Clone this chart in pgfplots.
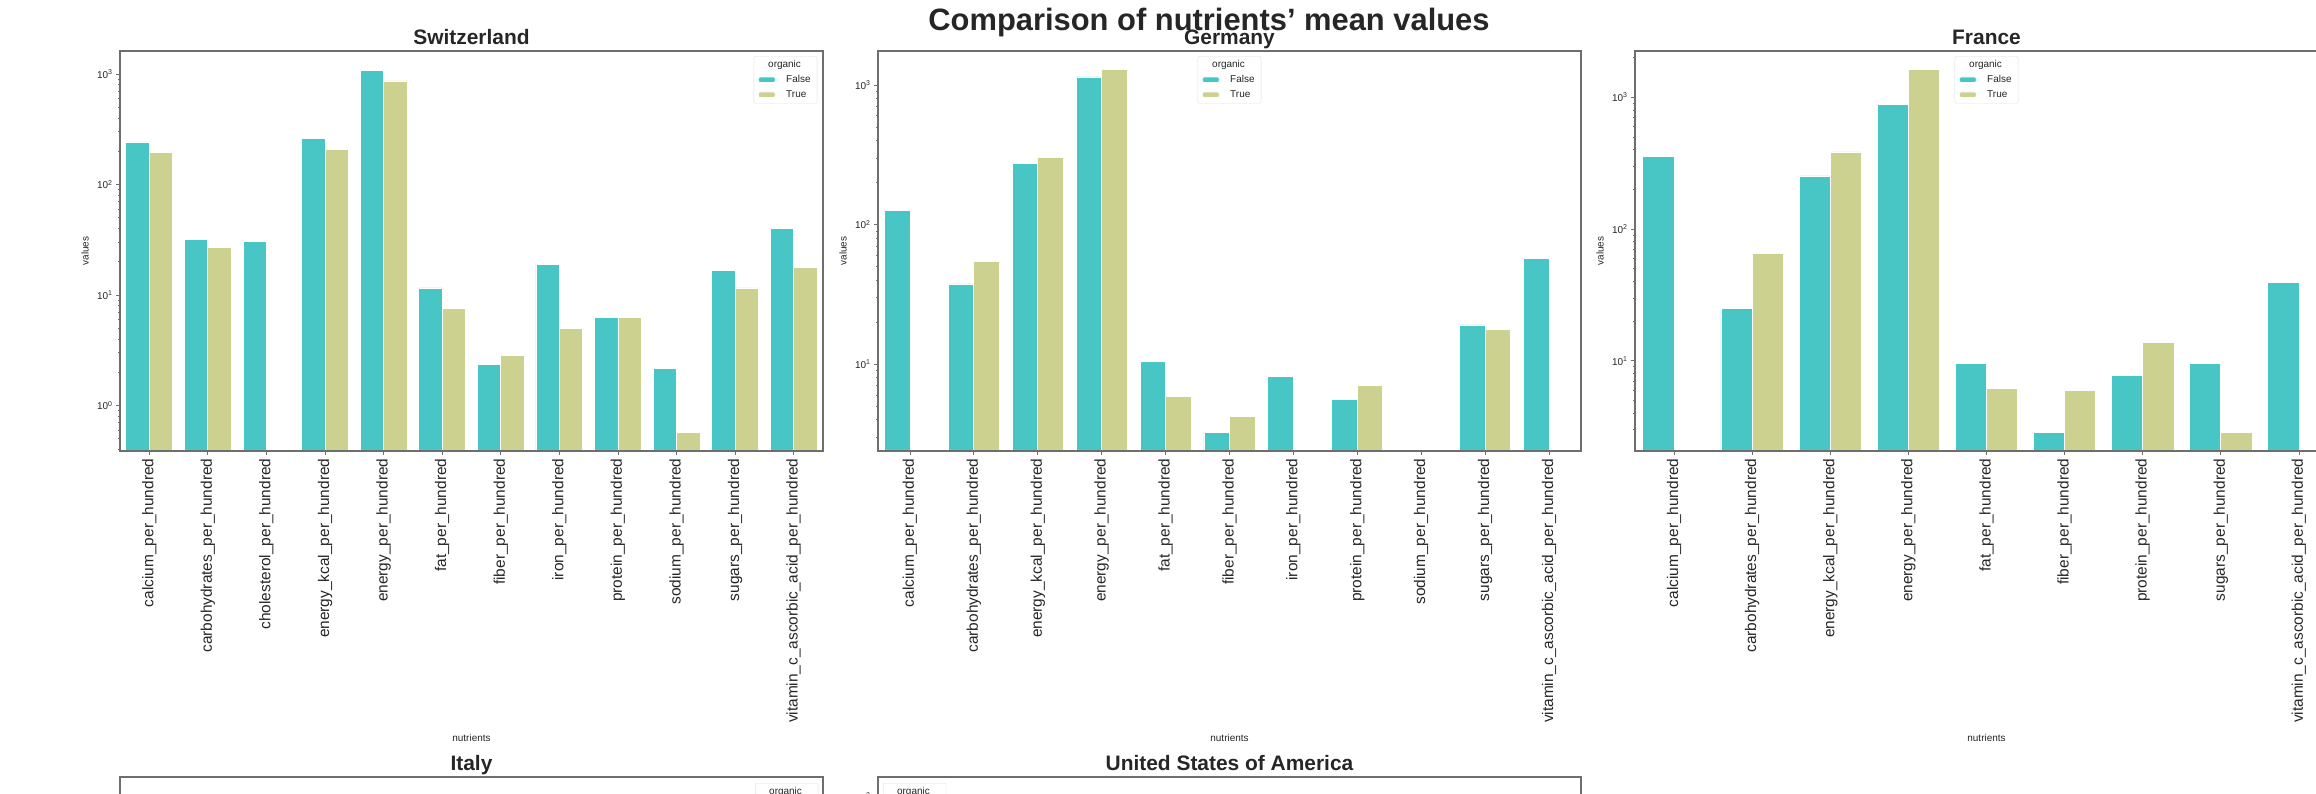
\documentclass[border=0pt]{standalone}
\usepackage{fontspec}
\setmainfont{Liberation Sans}
\usepackage{pgfplots}
\pgfplotsset{compat=1.18}

\definecolor{cF}{RGB}{72,198,198}
\definecolor{cT}{RGB}{204,209,143}
\definecolor{txt}{RGB}{38,38,38}
\definecolor{frame}{RGB}{110,110,110}

% shared look of the five panels
\pgfplotsset{
  every axis/.append style={
    scale only axis, width=703bp, height=400bp,
    axis on top,
    axis line style={draw=frame, line width=1.3bp},
    tick style={draw=frame, line width=0.9bp},
    tick align=outside, major tick length=4bp, minor tick length=2bp,
    tick pos=left,
    yticklabel style={font=\fontsize{10}{12}\selectfont, text=txt},
    xticklabel style={font=\fontsize{15.5}{18}\selectfont, text=txt, rotate=90, anchor=east},
    title style={font=\fontsize{21}{25}\selectfont\bfseries, text=txt, anchor=base, yshift=1bp},
    ylabel style={font=\fontsize{10}{12}\selectfont, text=txt},
    xlabel style={font=\fontsize{10}{12}\selectfont, text=txt},
    legend cell align=left,
    legend style={draw=gray!25, rounded corners=2bp, fill=white,
      font=\fontsize{10}{12}\selectfont, text=txt,
      inner xsep=4bp, inner ysep=1bp,
      nodes={inner sep=2.5bp, text height=7.5bp, text depth=2.5bp},
      /tikz/every odd column/.append style={column sep=8bp}},
  },
}

\begin{document}
\begin{tikzpicture}
\useasboundingbox (0,0) rectangle (2316bp,-794bp);
\clip (0,0) rectangle (2316bp,-794bp);

% ---- Switzerland ----
\begin{axis}[at={(120bp,-451bp)}, anchor=south west,
  ymode=log, log origin=infty, ybar, bar width=0.4,
  title={Switzerland},
  ylabel={values}, xlabel={nutrients},
  ylabel style={at={(axis description cs:-0.0498,0.5)}, anchor=center},
  xlabel style={at={(axis description cs:0.5,-0.7175)}, anchor=center},
  xmin=-0.5, xmax=11.5, ymin=0.389, ymax=1615,
  xtick={0,...,11},
  xticklabels={calcium\_per\_hundred, carbohydrates\_per\_hundred, cholesterol\_per\_hundred,
    energy\_kcal\_per\_hundred, energy\_per\_hundred, fat\_per\_hundred, fiber\_per\_hundred,
    iron\_per\_hundred, protein\_per\_hundred, sodium\_per\_hundred, sugars\_per\_hundred,
    vitamin\_c\_ascorbic\_acid\_per\_hundred},
  ytick={1,10,100,1000},
  yticklabels={10\textsuperscript{0},10\textsuperscript{1},10\textsuperscript{2},10\textsuperscript{3}},
  minor ytick={0.4,0.5,0.6,0.7,0.8,0.9,2,3,4,5,6,7,8,9,20,30,40,50,60,70,80,90,200,300,400,500,600,700,800,900},
  legend style={at={(1,1)}, anchor=north east, xshift=-5.7bp, yshift=-5bp},
]
\addlegendimage{empty legend}
\addlegendentry{\hspace{-18bp}organic}
\addplot[fill=cF, draw=white, line width=0.8bp, bar shift=-0.2, area legend] coordinates {
  (0,243) (1,31.8) (2,30.3) (3,259) (4,1080) (5,11.6)
  (6,2.38) (7,19.0) (8,6.24) (9,2.18) (10,16.7) (11,39.9)};
\addlegendentry{False}
\addplot[fill=cT, draw=white, line width=0.8bp, bar shift=0.2, area legend] coordinates {
  (0,195) (1,27.1) (3,207) (4,865) (5,7.6)
  (6,2.83) (7,5.03) (8,6.24) (9,0.571) (10,11.6) (11,17.9)};
\addlegendentry{True}
\end{axis}

% ---- Germany ----
\begin{axis}[at={(878bp,-451bp)}, anchor=south west,
  ymode=log, log origin=infty, ybar, bar width=0.4,
  title={Germany},
  ylabel={values}, xlabel={nutrients},
  ylabel style={at={(axis description cs:-0.0498,0.5)}, anchor=center},
  xlabel style={at={(axis description cs:0.5,-0.7175)}, anchor=center},
  xmin=-0.5, xmax=10.5, ymin=2.39, ymax=1751,
  xtick={0,...,10},
  xticklabels={calcium\_per\_hundred, carbohydrates\_per\_hundred,
    energy\_kcal\_per\_hundred, energy\_per\_hundred, fat\_per\_hundred, fiber\_per\_hundred,
    iron\_per\_hundred, protein\_per\_hundred, sodium\_per\_hundred, sugars\_per\_hundred,
    vitamin\_c\_ascorbic\_acid\_per\_hundred},
  ytick={10,100,1000},
  yticklabels={10\textsuperscript{1},10\textsuperscript{2},10\textsuperscript{3}},
  minor ytick={3,4,5,6,7,8,9,20,30,40,50,60,70,80,90,200,300,400,500,600,700,800,900},
  legend style={at={(0.5,1)}, anchor=north, yshift=-5bp},
]
\addlegendimage{empty legend}
\addlegendentry{\hspace{-18bp}organic}
\addplot[fill=cF, draw=white, line width=0.8bp, bar shift=-0.2, area legend] coordinates {
  (0,127) (1,37.6) (2,275) (3,1141) (4,10.4) (5,3.24)
  (6,8.16) (7,5.56) (9,19.1) (10,57.4)};
\addlegendentry{False}
\addplot[fill=cT, draw=white, line width=0.8bp, bar shift=0.2, area legend] coordinates {
  (1,54.3) (2,303) (3,1288) (4,5.86) (5,4.22) (7,7.0) (9,17.8)};
\addlegendentry{True}
\end{axis}

% ---- France ----
\begin{axis}[at={(1635bp,-451bp)}, anchor=south west,
  ymode=log, log origin=infty, ybar, bar width=0.4,
  title={France},
  ylabel={values}, xlabel={nutrients},
  ylabel style={at={(axis description cs:-0.0498,0.5)}, anchor=center},
  xlabel style={at={(axis description cs:0.5,-0.7175)}, anchor=center},
  xmin=-0.5, xmax=8.5, ymin=2.07, ymax=2245,
  xtick={0,...,8},
  xticklabels={calcium\_per\_hundred, carbohydrates\_per\_hundred,
    energy\_kcal\_per\_hundred, energy\_per\_hundred, fat\_per\_hundred, fiber\_per\_hundred,
    protein\_per\_hundred, sugars\_per\_hundred,
    vitamin\_c\_ascorbic\_acid\_per\_hundred},
  ytick={10,100,1000},
  yticklabels={10\textsuperscript{1},10\textsuperscript{2},10\textsuperscript{3}},
  minor ytick={3,4,5,6,7,8,9,20,30,40,50,60,70,80,90,200,300,400,500,600,700,800,900,2000},
  legend style={at={(0.5,1)}, anchor=north, yshift=-5bp},
]
\addlegendimage{empty legend}
\addlegendentry{\hspace{-18bp}organic}
\addplot[fill=cF, draw=white, line width=0.8bp, bar shift=-0.2, area legend] coordinates {
  (0,357) (1,25.1) (2,253) (3,880) (4,9.49) (5,2.86)
  (6,7.74) (7,9.49) (8,39.1)};
\addlegendentry{False}
\addplot[fill=cT, draw=white, line width=0.8bp, bar shift=0.2, area legend] coordinates {
  (1,65.6) (2,385) (3,1622) (4,6.2) (5,6.0) (6,13.9) (7,2.86)};
\addlegendentry{True}
\end{axis}

% ---- Italy (upper edge only) ----
\begin{axis}[at={(120bp,-777bp)}, anchor=north west,
  ymode=log, title={Italy},
  xmin=-0.5, xmax=11.5, ymin=1, ymax=5000,
  xtick=\empty, ytick={1,10,100,1000},
  yticklabels={10\textsuperscript{0},10\textsuperscript{1},10\textsuperscript{2},10\textsuperscript{3}},
  legend style={at={(1,1)}, anchor=north east, xshift=-4.7bp, yshift=-6bp},
]
\addlegendimage{empty legend}
\addlegendentry{\hspace{-18bp}organic}
\addlegendimage{area legend, fill=cF, draw=white}
\addlegendentry{False}
\addlegendimage{area legend, fill=cT, draw=white}
\addlegendentry{True}
\end{axis}

% ---- United States of America (upper edge only) ----
\begin{axis}[at={(878bp,-777bp)}, anchor=north west,
  ymode=log, title={United States of America},
  xmin=-0.5, xmax=8.5, ymin=1.585, ymax=1403,
  xtick=\empty, ytick={10,100,1000},
  yticklabels={10\textsuperscript{1},10\textsuperscript{2},10\textsuperscript{3}},
  legend style={at={(0,1)}, anchor=north west, xshift=5bp, yshift=-6bp},
]
\addlegendimage{empty legend}
\addlegendentry{\hspace{-18bp}organic}
\addlegendimage{area legend, fill=cF, draw=white}
\addlegendentry{False}
\addlegendimage{area legend, fill=cT, draw=white}
\addlegendentry{True}
\end{axis}

\node[anchor=base, font=\fontsize{31}{37}\selectfont\bfseries, text=txt]
  at (1209bp,-30bp) {Comparison of nutrients’ mean values};
\end{tikzpicture}
\end{document}
